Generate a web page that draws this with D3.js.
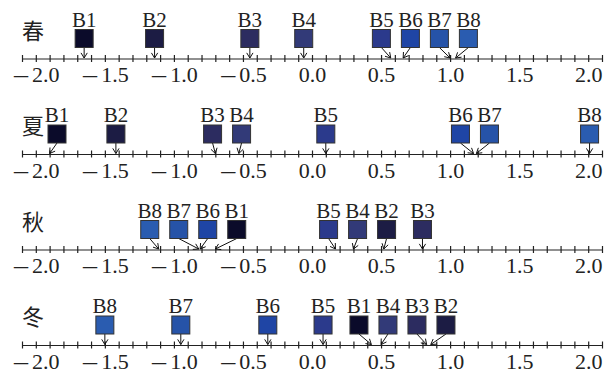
<!DOCTYPE html>
<html lang="zh">
<head>
<meta charset="UTF-8"/>
<title>Seasonal ranking of B1-B8</title>
<script src="https://d3js.org/d3.v7.min.js"></script>
<style>
  body { margin: 0; background: #fff; }
  svg { display: block; }
  .season { font-family: "Noto Sans CJK SC", sans-serif; font-size: 22px; fill: #222; }
  .stn { font-family: "Liberation Serif", "Times New Roman", serif; font-size: 21px; fill: #222; }
  .major text { font-family: "Liberation Serif", "Times New Roman", serif; font-size: 22px; fill: #222; }
  .major text .neg { font-family: "Noto Sans CJK SC", sans-serif; font-size: 18px; }
  .minor path, .minor line { stroke: #222; stroke-width: 1.2; }
  .arrow { stroke: #111; stroke-width: 1; fill: none; }
</style>
</head>
<body>
<svg width="611" height="373"></svg>
<script>
// ---- data ----
const seasons = ["春", "夏", "秋", "冬"];
const stations = ["B1", "B2", "B3", "B4", "B5", "B6", "B7", "B8"];
const spring = [-1.65, -1.14, -0.45, -0.06, 0.57, 0.66, 1.00, 1.04];
const summer = [-1.90, -1.42, -0.70, -0.53, 0.10, 1.17, 1.19, 2.01];
const autumn = [-0.70, 0.52, 0.80, 0.30, 0.17, -0.81, -0.82, -1.11];
const winter = [0.43, 0.86, 0.83, 0.50, 0.08, -0.32, -0.95, -1.50];
const stationColors = ["#0b0b2a", "#1c1c44", "#2c2c60", "#323a78", "#2b3a8c", "#1f45a5", "#2653a8", "#2a5cb0"];
const tickLabels = [-2, -1.5, -1, -0.5, 0, 0.5, 1, 1.5, 2];

const rows = [spring, summer, autumn, winter];

const svg = d3.select("svg");
const x = d3.scaleLinear().domain([-2.1, 2.1]).range([22, 602]);

const rowTop = 58.5, rowStep = 95.5;
const gap = 29, lo = 57, hi = 590;

// spread boxes so they don't overlap, keeping groups centred on their targets
function dodge(targets) {
  const order = d3.range(targets.length).sort((a, b) => targets[a] - targets[b]);
  const groups = [];
  const place = g => {
    const n = g.ids.length;
    let s = g.sum / n - (n - 1) * gap / 2;
    s = Math.max(lo, Math.min(s, hi - (n - 1) * gap));
    g.start = s;
  };
  order.forEach(i => {
    groups.push({ids: [i], sum: targets[i]});
    while (true) {
      const g = groups[groups.length - 1];
      place(g);
      if (groups.length < 2) break;
      const p = groups[groups.length - 2];
      if (p.start + p.ids.length * gap <= g.start + 1e-6) break;
      groups.pop();
      p.ids = p.ids.concat(g.ids);
      p.sum += g.sum;
    }
  });
  const out = [];
  groups.forEach(g => g.ids.forEach((id, k) => out[id] = g.start + k * gap));
  return out;
}

rows.forEach((vals, r) => {
  const y0 = rowTop + r * rowStep;
  const g = svg.append("g").attr("transform", `translate(0,${y0})`);

  // minor ticks + axis line
  const minor = g.append("g").attr("class", "minor")
    .call(d3.axisBottom(x)
      .tickValues(d3.range(-21, 22).map(d => d / 10))
      .tickSize(3.5).tickSizeOuter(0).tickFormat(""));
  minor.selectAll(".tick line").attr("y1", -3.5);

  // major labels, long minus drawn as its own tspan
  const major = g.append("g").attr("class", "major")
    .call(d3.axisBottom(x).tickValues(tickLabels).tickSize(0).tickPadding(8));
  major.select(".domain").remove();
  major.selectAll("text")
    .attr("font-family", null).attr("font-size", null)
    .each(function (d) {
      const t = d3.select(this).text("");
      if (d < 0) t.append("tspan").attr("class", "neg").text("\u2014");
      t.append("tspan").attr("dx", d < 0 ? 3 : 0).text(d3.format(".1f")(Math.abs(d)));
    });

  g.append("text").attr("class", "season")
    .attr("x", 22).attr("y", -30)
    .attr("dominant-baseline", "central")
    .text(seasons[r]);

  const cx = dodge(vals.map(v => x(v)));

  const items = g.selectAll(".item")
    .data(stations.map((s, i) => ({name: s, v: vals[i], cx: cx[i], color: stationColors[i]})))
    .join("g").attr("class", "item");

  items.append("path").attr("class", "arrow")
    .attr("d", d => {
      const x1 = d.cx, y1 = -11, x2 = x(d.v), y2 = -0.5;
      const a = Math.atan2(y2 - y1, x2 - x1);
      const L = 6, h = 0.55;
      const ax = x2 - L * Math.cos(a - h), ay = y2 - L * Math.sin(a - h);
      const bx = x2 - L * Math.cos(a + h), by = y2 - L * Math.sin(a + h);
      return `M${x1},${y1}L${x2},${y2}M${ax},${ay}L${x2},${y2}L${bx},${by}`;
    });

  items.append("rect")
    .attr("x", d => d.cx - 9).attr("y", -29)
    .attr("width", 18).attr("height", 18)
    .attr("fill", d => d.color)
    .attr("stroke", "#333").attr("stroke-width", 1);

  items.append("text").attr("class", "stn")
    .attr("x", d => d.cx).attr("y", -32)
    .attr("text-anchor", "middle")
    .text(d => d.name);
});
</script>
</body>
</html>
